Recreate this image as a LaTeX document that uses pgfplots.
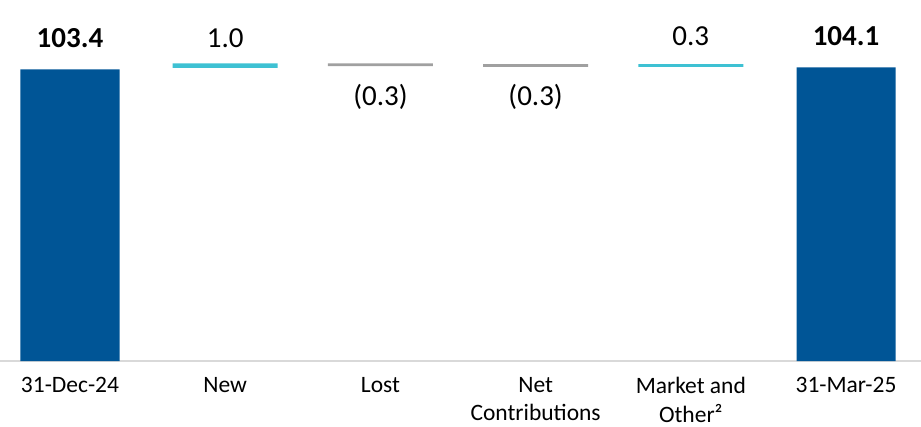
\documentclass[border=0pt]{standalone}
\usepackage{fontspec}
\setmainfont{Carlito}
\usepackage{pgfplots}
\pgfplotsset{compat=1.18}
\definecolor{bblue}{RGB}{0,85,150}
\definecolor{bcyan}{RGB}{62,193,211}
\definecolor{bgray}{RGB}{160,160,160}
\definecolor{axgray}{RGB}{217,217,217}
\begin{document}
\begin{tikzpicture}
\path[use as bounding box] (0pt,0pt) rectangle (921pt,426pt);
\begin{axis}[
  at={(0pt,65pt)}, anchor=south west,
  scale only axis, width=921pt, height=361pt,
  xmin=-0.451, xmax=5.483, ymin=0, ymax=128,
  ybar stacked,
  axis x line*=bottom, axis y line=none,
  x axis line style={draw=axgray, line width=1.5pt},
  xtick={0,1,2,3,4,5},
  xticklabels={31-Dec-24,New,Lost,{Net\\Contributions},{Market and\\Other²},31-Mar-25},
  major tick length=0pt,
  xticklabel style={align=center, anchor=north, inner sep=0pt, font=\fontsize{23.5}{28.5}\selectfont, yshift=-16pt},
  clip=false,
]
% start / end totals
\addplot[fill=bblue, draw=none, bar width=0.638] coordinates {(0,103.4) (1,0) (2,0) (3,0) (4,0) (5,104.1)};
% invisible offsets for the floating steps
\addplot[fill=none, draw=none, bar width=0.677] coordinates {(0,0) (1,103.95) (2,104.55) (3,104.3) (4,104.3) (5,0)};
% increases
\addplot[fill=bcyan, draw=none, bar width=0.677] coordinates {(0,0) (1,1.55) (2,0) (3,0) (4,0.95) (5,0)};
% decreases
\addplot[fill=bgray, draw=none, bar width=0.677] coordinates {(0,0) (1,0) (2,0.95) (3,0.95) (4,0) (5,0)};
\node[anchor=base, font=\fontsize{29}{34}\selectfont\bfseries] at (axis cs:0,111.2) {103.4};
\node[anchor=base, font=\fontsize{29}{34}\selectfont] at (axis cs:1,111.2) {1.0};
\node[anchor=base, font=\fontsize{29}{34}\selectfont] at (axis cs:2,90.7) {(0.3)};
\node[anchor=base, font=\fontsize{29}{34}\selectfont] at (axis cs:3,90.7) {(0.3)};
\node[anchor=base, font=\fontsize{29}{34}\selectfont] at (axis cs:4,112.0) {0.3};
\node[anchor=base, font=\fontsize{29}{34}\selectfont\bfseries] at (axis cs:5,112.0) {104.1};
\end{axis}
\end{tikzpicture}
\end{document}
